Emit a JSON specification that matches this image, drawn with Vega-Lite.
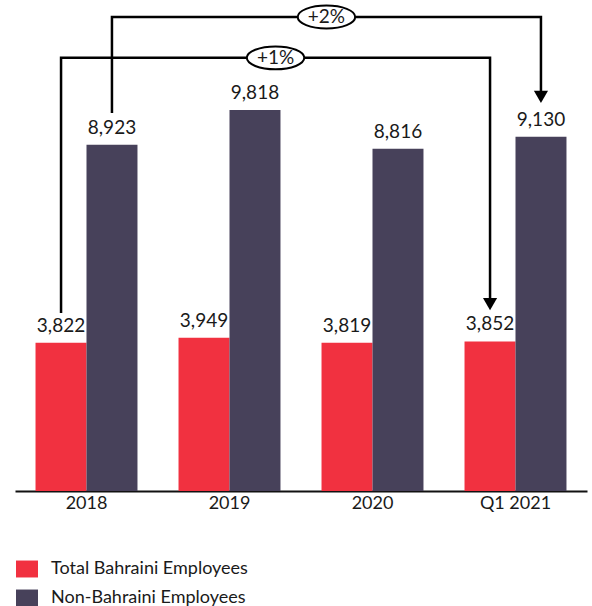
{
  "$schema": "https://vega.github.io/schema/vega-lite/v6.json",
  "width": 572,
  "height": 491,
  "autosize": {"type": "none"},
  "padding": {"left": 15, "top": 0, "right": 5, "bottom": 115},
  "background": "white",
  "config": {"view": {"stroke": null}, "font": "Lato"},
  "datasets": {
    "bars": [
      {"period": "2018", "series": "Total Bahraini Employees", "value": 3822},
      {"period": "2018", "series": "Non-Bahraini Employees", "value": 8923},
      {"period": "2019", "series": "Total Bahraini Employees", "value": 3949},
      {"period": "2019", "series": "Non-Bahraini Employees", "value": 9818},
      {"period": "2020", "series": "Total Bahraini Employees", "value": 3819},
      {"period": "2020", "series": "Non-Bahraini Employees", "value": 8816},
      {"period": "Q1 2021", "series": "Total Bahraini Employees", "value": 3852},
      {"period": "Q1 2021", "series": "Non-Bahraini Employees", "value": 9130}
    ],
    "paths": [
      {"arrow": "+2%", "pos": 0.678, "value": 9740, "order": 0},
      {"arrow": "+2%", "pos": 0.678, "value": 12213, "order": 1},
      {"arrow": "+2%", "pos": 3.678, "value": 12213, "order": 2},
      {"arrow": "+2%", "pos": 3.678, "value": 10152, "order": 3},
      {"arrow": "+1%", "pos": 0.322, "value": 4586, "order": 0},
      {"arrow": "+1%", "pos": 0.322, "value": 11160, "order": 1},
      {"arrow": "+1%", "pos": 3.322, "value": 11160, "order": 2},
      {"arrow": "+1%", "pos": 3.322, "value": 4818, "order": 3}
    ],
    "heads": [
      {"arrow": "+2%", "pos": 3.678, "value": 10152},
      {"arrow": "+1%", "pos": 3.322, "value": 4818}
    ],
    "tags": [
      {"arrow": "+2%", "pos": 2.178, "value": 12213},
      {"arrow": "+1%", "pos": 1.822, "value": 11160}
    ]
  },
  "layer": [
    {
      "data": {"name": "bars"},
      "layer": [
        {
          "mark": {"type": "bar"},
          "encoding": {
            "x": {"field": "period", "type": "nominal", "sort": null,
                  "scale": {"paddingInner": 0.287, "paddingOuter": 0.1435},
                  "axis": {"title": null, "labelAngle": 0, "domainColor": "#111111", "domainWidth": 2,
                           "ticks": false, "labelFontSize": 18, "labelColor": "#1a1a1a", "labelPadding": 3}},
            "xOffset": {"field": "series", "type": "nominal",
                        "sort": ["Total Bahraini Employees", "Non-Bahraini Employees"],
                        "scale": {"paddingInner": 0, "paddingOuter": 0}},
            "y": {"field": "value", "type": "quantitative",
                  "scale": {"domain": [0, 12651], "nice": false, "zero": true}, "axis": null},
            "color": {"field": "series", "type": "nominal",
                      "sort": ["Total Bahraini Employees", "Non-Bahraini Employees"],
                      "scale": {"domain": ["Total Bahraini Employees", "Non-Bahraini Employees"],
                                "range": ["#F13140", "#47415A"]},
                      "legend": {"title": null, "orient": "none", "legendX": 1, "legendY": 558,
                                 "symbolType": "M-1,-0.77H1V0.77H-1Z", "symbolSize": 484,
                                 "symbolStrokeWidth": 0, "labelFontSize": 18, "labelColor": "#1a1a1a",
                                 "labelLimit": 0, "labelOffset": 13, "rowPadding": 9, "symbolOpacity": 1}}
          }
        },
        {
          "mark": {"type": "text", "baseline": "bottom", "dy": -7, "fontSize": 19, "color": "#1a1a1a"},
          "encoding": {
            "x": {"field": "period", "type": "nominal", "sort": null},
            "xOffset": {"field": "series", "type": "nominal",
                        "sort": ["Total Bahraini Employees", "Non-Bahraini Employees"]},
            "y": {"field": "value", "type": "quantitative"},
            "text": {"field": "value", "type": "quantitative", "format": ","}
          }
        }
      ]
    },
    {
      "layer": [
        {
          "data": {"name": "paths"},
          "mark": {"type": "line", "color": "#000000", "strokeWidth": 2.5, "strokeJoin": "miter"},
          "encoding": {
            "x": {"field": "pos", "type": "quantitative", "scale": {"domain": [0, 4], "nice": false, "zero": false}, "axis": null},
            "y": {"field": "value", "type": "quantitative"},
            "detail": {"field": "arrow"},
            "order": {"field": "order", "type": "quantitative"}
          }
        },
        {
          "data": {"name": "heads"},
          "mark": {"type": "point", "shape": "triangle-down", "filled": true, "color": "#000000", "size": 200, "opacity": 1},
          "encoding": {
            "x": {"field": "pos", "type": "quantitative"},
            "y": {"field": "value", "type": "quantitative"}
          }
        },
        {
          "data": {"name": "tags"},
          "mark": {"type": "point", "shape": "M-1,0A1,0.4,0,1,0,1,0A1,0.4,0,1,0,-1,0Z",
                   "size": 3300, "filled": true, "fill": "white", "stroke": "#000000", "strokeWidth": 2, "opacity": 1},
          "encoding": {
            "x": {"field": "pos", "type": "quantitative"},
            "y": {"field": "value", "type": "quantitative"}
          }
        },
        {
          "data": {"name": "tags"},
          "mark": {"type": "text", "fontSize": 19, "color": "#1a1a1a", "baseline": "middle"},
          "encoding": {
            "x": {"field": "pos", "type": "quantitative"},
            "y": {"field": "value", "type": "quantitative"},
            "text": {"field": "arrow"}
          }
        }
      ]
    }
  ],
  "resolve": {"scale": {"x": "independent"}}
}
